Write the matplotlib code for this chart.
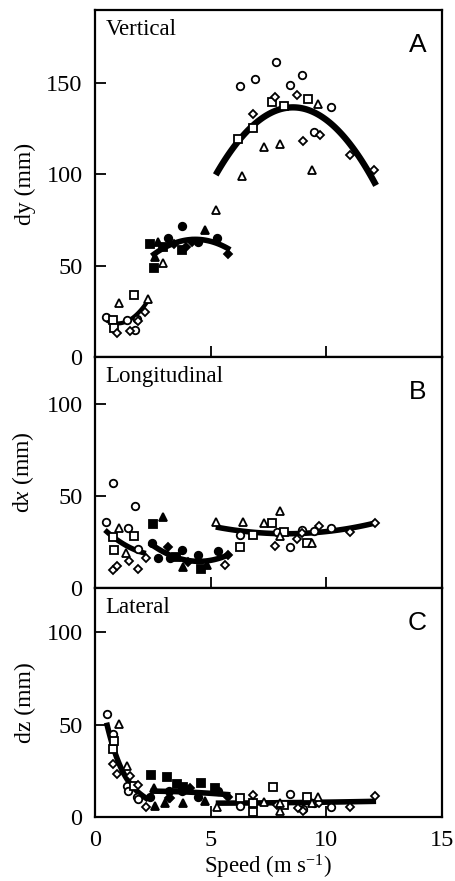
import numpy as np
import matplotlib.pyplot as plt

plt.rcParams['font.family'] = ['Liberation Serif', 'DejaVu Serif']
plt.rcParams['mathtext.fontset'] = 'custom'
plt.rcParams['mathtext.rm'] = 'Liberation Serif'
plt.rcParams['mathtext.it'] = 'Liberation Serif:italic'

# (speed m/s, displacement mm), one pair per marker type

# panel A - vertical (dy)
A_OPEN_CIRCLE = ([0.47, 1.40, 1.73, 1.82, 6.25, 6.93, 7.84, 8.44, 8.94, 9.48, 10.2],
                 [22, 20, 15, 21, 148.6, 152.2, 161.3, 149, 154.6, 123.1, 136.8])
A_OPEN_SQUARE = ([0.79, 0.82, 1.68, 6.2, 6.85, 7.65, 8.18, 9.19],
                 [20, 15.7, 34, 119.4, 125.4, 139.4, 137.7, 141.2])
A_OPEN_DIAMOND = ([0.93, 1.51, 1.87, 2.18, 6.85, 7.79, 8.73, 8.99, 9.71, 11.01, 12.08],
                  [13, 14, 19.7, 24.8, 132.8, 142.3, 143.7, 118, 121.3, 110.7, 102.2])
A_OPEN_TRIANGLE = ([1.05, 2.30, 2.96, 5.24, 6.35, 7.29, 7.98, 9.38, 9.62],
                   [29.7, 32, 51.5, 80.7, 98.9, 115, 116.5, 102.2, 138.3])
A_FILLED_CIRCLE = ([3.17, 3.78, 4.47, 5.27], [65.4, 71.6, 63.2, 65.4])
A_FILLED_SQUARE = ([2.38, 2.53, 3.75, 2.95], [62.1, 48.5, 58.8, 60.5])
A_FILLED_TRIANGLE = ([2.74, 4.76, 2.6], [63, 69.4, 55])
A_FILLED_DIAMOND = ([3.4, 4.18, 5.77, 3.95], [62, 63, 56.3, 60])

# panel B - longitudinal (dx)
B_OPEN_CIRCLE = ([0.47, 0.79, 1.41, 1.73, 1.85, 6.28, 7.86, 8.44, 8.95, 9.48, 10.2],
                 [35.9, 57, 32.4, 44.6, 21, 28.8, 30.6, 22.3, 31.5, 31.1, 32.8])
B_OPEN_SQUARE = ([0.79, 0.84, 1.70, 6.28, 6.85, 7.65, 8.15, 9.16],
                 [27.9, 20.6, 28.2, 22.1, 28.8, 35.5, 30.6, 24.6])
B_OPEN_DIAMOND = ([0.79, 0.94, 1.47, 1.85, 2.19, 5.6, 7.79, 8.73, 8.95, 9.7, 11.04, 12.12],
                  [9.8, 11.9, 14.7, 10.3, 16.1, 12.4, 22.8, 26.4, 30, 33.7, 30.6, 35.5])
B_OPEN_TRIANGLE = ([1.04, 1.33, 5.22, 6.39, 7.29, 7.98, 8.01, 9.38],
                   [32.4, 18.9, 35.7, 35.7, 35.5, 42, 28.2, 24.6])
B_FILLED_CIRCLE = ([2.45, 2.74, 3.25, 3.75, 4.47, 5.31], [24.3, 16.1, 16.1, 20.6, 17.9, 20.1])
B_FILLED_SQUARE = ([2.5, 4.59, 3.5], [34.6, 10.1, 17])
B_FILLED_TRIANGLE = ([2.96, 3.82, 4.85], [38.8, 11.6, 12.5])
B_FILLED_DIAMOND = ([3.17, 4.04, 5.77], [22.5, 14.2, 17.9])

# panel C - lateral (dz)
C_OPEN_CIRCLE = ([0.5, 0.79, 1.37, 1.44, 1.8, 1.88, 6.28, 8.44, 9.0, 9.48, 10.2],
                 [55.7, 44.9, 16.8, 14.2, 11, 10, 5.7, 12.4, 4.5, 7.4, 5.2])
C_OPEN_SQUARE = ([0.79, 0.84, 1.70, 6.28, 6.83, 6.85, 7.68, 8.15, 9.16],
                 [36.6, 41.3, 16.8, 10.1, 7.7, 2.9, 16.4, 6.5, 11])
C_OPEN_DIAMOND = ([0.79, 0.94, 1.52, 1.88, 2.19, 3.25, 6.83, 7.86, 8.76, 8.99, 9.7, 11.04, 12.12],
                  [28.6, 23.3, 22.2, 17.3, 5.6, 10.1, 11.9, 6.5, 4.7, 3.2, 7.4, 5.6, 11.3])
C_OPEN_TRIANGLE = ([1.04, 1.37, 5.27, 7.29, 7.98, 7.98, 9.62, 9.38],
                   [50.6, 27.6, 5.2, 8.3, 7.4, 3.5, 10.7, 7.5])
C_FILLED_CIRCLE = ([2.38, 3.2, 3.75, 4.47, 5.31], [10.9, 14.2, 14.2, 10.6, 14.2])
C_FILLED_SQUARE = ([2.42, 3.10, 3.54, 3.82, 4.59, 5.17], [22.7, 21.4, 17.8, 16.0, 18.5, 15.5])
C_FILLED_TRIANGLE = ([2.53, 2.6, 3.03, 3.82, 4.76], [15.5, 5.9, 7.7, 7.4, 8.9])
C_FILLED_DIAMOND = ([3.2, 4.09, 5.75], [10.2, 15.6, 11.1])

# regression curves: points (x, y, polynomial degree)
A_FITS = [([0.5, 1.1, 2.3], [20, 18.5, 31], 2),
          ([2.45, 3.46, 4.76, 5.84], [55.7, 61.6, 64.8, 58.4], 2),
          ([5.22, 6.2, 8.5, 12.15], [99.5, 118.6, 136.5, 94], 2)]
B_FITS = [([0.43, 1.3, 2.2], [31.5, 23.4, 18.8], 2),
          ([2.35, 4.4, 5.85], [24.5, 14.5, 18.5], 2),
          ([5.22, 6.3, 8.0, 10.0, 12.15], [33.5, 30.5, 29.5, 31, 35.3], 2)]
C_FITS = [([0.5, 0.72, 1.01, 1.3, 1.59, 1.95, 2.31], [51.5, 39.8, 29.9, 22.7, 17.3, 11.9, 9.5], 3),
          ([2.4, 4.0, 5.85], [14, 13.5, 12], 2),
          ([5.22, 8.5, 12.15], [7.5, 7.8, 8.5], 2)]
A_FIT_WIDTHS = [3.0, 4.0, 4.6]
B_FIT_WIDTHS = [3.8, 4.0, 4.0]
C_FIT_WIDTHS = [4.0, 4.0, 4.0]

MARKERS = ['o', 's', 'D', '^', 'o', 's', '^', 'D']
FILLED = [False, False, False, False, True, True, True, True]
SIZES = [5.4, 5.2, 4.2, 5.4, 5.4, 5.2, 5.4, 4.2]


def draw_panel(ax, series, fits, widths):
    for (x, y, deg), lw in zip(fits, widths):
        coef = np.polyfit(x, y, deg)
        xs = np.linspace(min(x), max(x), 100)
        ax.plot(xs, np.polyval(coef, xs), color='black', lw=lw,
                solid_capstyle='butt', zorder=2)
    for (x, y), m, filled, ms in zip(series, MARKERS, FILLED, SIZES):
        ax.plot(x, y, linestyle='none', marker=m, ms=ms, mew=1.3,
                mec='black', mfc='black' if filled else 'white', zorder=3)


fig = plt.figure(figsize=(4.56, 8.81), dpi=100)
W, H = 456.0, 881.0
left, right = 95 / W, 442 / W
# pixel rows of panel edges: A 10-357, B 357-588, C 588-817
ax_a = fig.add_axes([left, 1 - 357 / H, right - left, 347 / H])
ax_b = fig.add_axes([left, 1 - 588 / H, right - left, 231 / H])
ax_c = fig.add_axes([left, 1 - 817 / H, right - left, 229 / H])

draw_panel(ax_a, [A_OPEN_CIRCLE, A_OPEN_SQUARE, A_OPEN_DIAMOND, A_OPEN_TRIANGLE,
                  A_FILLED_CIRCLE, A_FILLED_SQUARE, A_FILLED_TRIANGLE, A_FILLED_DIAMOND],
           A_FITS, A_FIT_WIDTHS)
draw_panel(ax_b, [B_OPEN_CIRCLE, B_OPEN_SQUARE, B_OPEN_DIAMOND, B_OPEN_TRIANGLE,
                  B_FILLED_CIRCLE, B_FILLED_SQUARE, B_FILLED_TRIANGLE, B_FILLED_DIAMOND],
           B_FITS, B_FIT_WIDTHS)
draw_panel(ax_c, [C_OPEN_CIRCLE, C_OPEN_SQUARE, C_OPEN_DIAMOND, C_OPEN_TRIANGLE,
                  C_FILLED_CIRCLE, C_FILLED_SQUARE, C_FILLED_TRIANGLE, C_FILLED_DIAMOND],
           C_FITS, C_FIT_WIDTHS)

panels = [(ax_a, 190, [0, 50, 100, 150], 'dy (mm)', 'Vertical', 'A'),
          (ax_b, 125.5, [0, 50, 100], 'd$x$ (mm)', 'Longitudinal', 'B'),
          (ax_c, 124, [0, 50, 100], 'dz (mm)', 'Lateral', 'C')]

for ax, ymax, yticks, ylab, name, letter in panels:
    ax.set_xlim(0, 15)
    ax.set_ylim(0, ymax)
    ax.set_yticks(yticks)
    ax.set_xticks([0, 5, 10, 15])
    ax.tick_params(direction='in', length=8, width=1.3, labelsize=17.5, pad=9)
    for sp in ax.spines.values():
        sp.set_linewidth(1.6)
    ax.set_ylabel(ylab, fontsize=17)
    ax.yaxis.set_label_coords(-0.17, 0.5)
    ax.text(0.03, 0.975 if ax is ax_a else 0.96, name, transform=ax.transAxes,
            ha='left', va='top', fontsize=16.5)
    ax.text(0.955, 0.935 if ax is ax_a else 0.9, letter, transform=ax.transAxes,
            ha='right', va='top', fontsize=19, family=['Liberation Sans', 'DejaVu Sans'])
    if ax is not ax_c:
        ax.tick_params(labelbottom=False)

ax_c.set_xlabel('Speed (m s$^{\\mathregular{-1}}$)', fontsize=16.5)
ax_c.xaxis.set_label_coords(0.5, -0.155)

fig.savefig('out.png', dpi=100)
